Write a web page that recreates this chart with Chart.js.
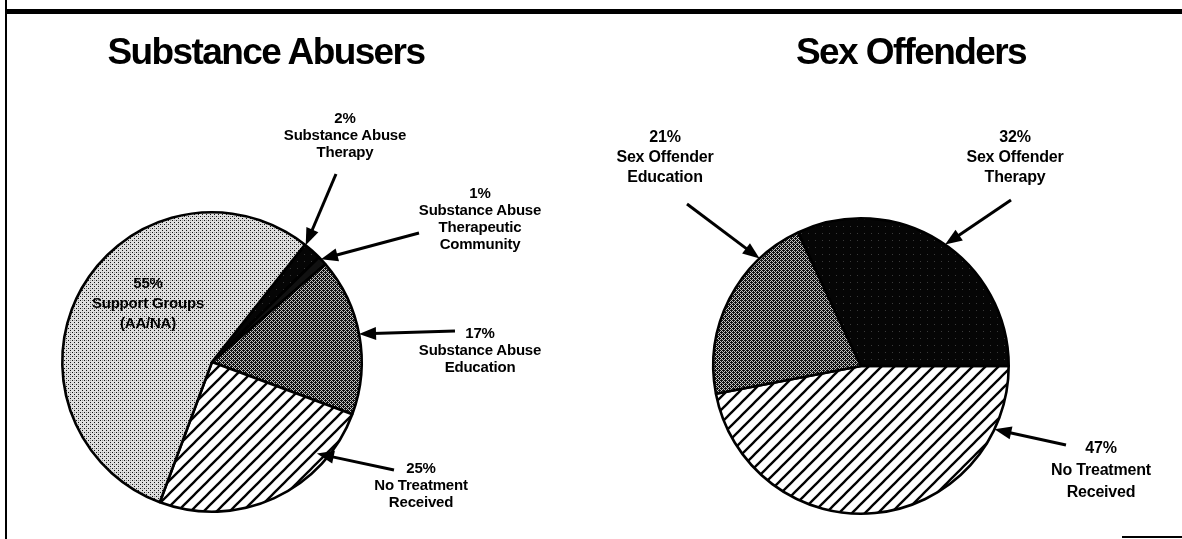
<!DOCTYPE html>
<html>
<head>
<meta charset="utf-8">
<script src="https://cdn.jsdelivr.net/npm/chart.js@4"></script>
<style>
  body { margin: 0; background: #fff; }
  #wrap { position: relative; width: 1182px; height: 539px; overflow: hidden; background: #fff; }
  canvas { position: absolute; left: 0; top: 0; }
  .title { position: absolute; font: bold 37px "Liberation Sans", Arial, sans-serif; letter-spacing: -1.6px; color: #000; white-space: nowrap; }
  .lbl { position: absolute; width: 220px; text-align: center; font-family: "Liberation Sans", Arial, sans-serif; font-weight: bold; color: #000; white-space: nowrap; letter-spacing: -0.2px; }
  .rule { position: absolute; background: #000; }
</style>
</head>
<body>
<div id="wrap">
  <div class="rule" style="left:5px;top:9px;width:1177px;height:5px"></div>
  <div class="rule" style="left:5px;top:0;width:2px;height:539px"></div>
  <div class="rule" style="left:1122px;top:536px;width:60px;height:2px"></div>
  <canvas id="abuse" width="1182" height="539"></canvas>
  <canvas id="sex" width="1182" height="539"></canvas>
</div>
<script>
// data
var abuseTitle = 'Substance Abusers'
var abuseCategories = [
  ['Substance Abuse', 'Therapy'],
  ['Substance Abuse', 'Therapeutic', 'Community'],
  ['Substance Abuse', 'Education'],
  ['No Treatment', 'Received'],
  ['Support Groups', '(AA/NA)']
]
var abuseValues = [2, 1, 17, 25, 55]

var sexTitle = 'Sex Offenders'
var sexCategories = [
  ['No Treatment', 'Received'],
  ['Sex Offender', 'Education'],
  ['Sex Offender', 'Therapy']
]
var sexValues = [47, 21, 32]

// fills, made to look like the old print screens
function makePattern (kind) {
  var c = document.createElement('canvas')
  var g = c.getContext('2d')
  if (kind === 'hatch') {
    c.width = 13; c.height = 13
    g.fillStyle = '#fff'; g.fillRect(0, 0, 13, 13)
    g.strokeStyle = '#000'; g.lineWidth = 2.3
    for (var k = -1; k <= 1; k++) {
      g.beginPath()
      g.moveTo(-3, 13 + 13 * k + 3)
      g.lineTo(16, 13 * k - 3)
      g.stroke()
    }
  } else if (kind === 'light') {
    c.width = 4; c.height = 4
    g.fillStyle = '#dedede'; g.fillRect(0, 0, 4, 4)
    g.fillStyle = '#111'
    g.fillRect(0, 0, 1, 1); g.fillRect(2, 2, 1, 1)
    g.fillStyle = '#999'
    g.fillRect(2, 0, 1, 1)
  } else if (kind === 'dark') {
    c.width = 4; c.height = 4
    g.fillStyle = '#c4c4c4'; g.fillRect(0, 0, 4, 4)
    g.fillStyle = '#111'
    g.fillRect(0, 0, 1, 1); g.fillRect(2, 0, 1, 1); g.fillRect(1, 1, 1, 1); g.fillRect(3, 1, 1, 1)
    g.fillRect(0, 2, 1, 1); g.fillRect(2, 2, 1, 1); g.fillRect(1, 3, 1, 1); g.fillRect(3, 3, 1, 1)
    g.fillRect(1, 0, 1, 1); g.fillRect(3, 2, 1, 1)
  } else if (kind === 'black') {
    c.width = 7; c.height = 7
    g.fillStyle = '#050505'; g.fillRect(0, 0, 7, 7)
    g.fillStyle = '#3a3a3a'; g.fillRect(3, 2, 1, 1)
  }
  return g.createPattern(c, 'repeat')
}

// where the words and arrows go (page pixels)
var abuseLayout = {
  padding: { left: 61, top: 211, right: 819, bottom: 26 },
  rotation: 38.4,
  labels: [
    { x: 345, y: 117, lh: 17, size: 15, arrow: [0.05, 1, 336, 174] },
    { x: 480, y: 192, lh: 17, size: 15, arrow: [0.3, 1, 419, 233] },
    { x: 480, y: 332, lh: 17, size: 15, arrow: [0.49, 1, 455, 331] },
    { x: 421, y: 467, lh: 17, size: 15, arrow: [0.23, 0.93, 394, 470] },
    { x: 148, y: 283, lh: 20, size: 15, arrow: null }
  ]
}
var sexLayout = {
  padding: { left: 712, top: 217, right: 172, bottom: 24 },
  rotation: 90,
  labels: [
    { x: 1101, y: 448, lh: 22, size: 16, arrow: [0.15, 1, 1066, 445] },
    { x: 665, y: 137, lh: 20, size: 16, arrow: [0.76, 1, 687, 204] },
    { x: 1015, y: 137, lh: 20, size: 16, arrow: [0.52, 1, 1011, 200] }
  ]
}

var arrowPlugin = {
  id: 'arrows',
  afterDraw: function (chart) {
    var ctx = chart.ctx
    var labels = chart.options.plugins.arrows.labels
    var arcs = chart.getDatasetMeta(0).data
    labels.forEach(function (lb, i) {
      if (!lb.arrow) return
      var p = arcs[i].getProps(['x', 'y', 'startAngle', 'endAngle', 'outerRadius'], true)
      var a = p.startAngle + lb.arrow[0] * (p.endAngle - p.startAngle)
      var r = p.outerRadius * lb.arrow[1]
      var tx = p.x + Math.cos(a) * r
      var ty = p.y + Math.sin(a) * r
      var sx = lb.arrow[2]
      var sy = lb.arrow[3]
      var ang = Math.atan2(ty - sy, tx - sx)
      var hl = 17
      var hw = 6.5
      ctx.save()
      ctx.strokeStyle = '#000'
      ctx.fillStyle = '#000'
      ctx.lineWidth = 3
      ctx.beginPath()
      ctx.moveTo(sx, sy)
      ctx.lineTo(tx - Math.cos(ang) * hl * 0.8, ty - Math.sin(ang) * hl * 0.8)
      ctx.stroke()
      ctx.beginPath()
      ctx.moveTo(tx, ty)
      ctx.lineTo(tx - Math.cos(ang) * hl - Math.sin(ang) * hw, ty - Math.sin(ang) * hl + Math.cos(ang) * hw)
      ctx.lineTo(tx - Math.cos(ang) * hl + Math.sin(ang) * hw, ty - Math.sin(ang) * hl - Math.cos(ang) * hw)
      ctx.closePath()
      ctx.fill()
      ctx.restore()
    })
  }
}

function makePie (id, categories, values, fills, layout) {
  new Chart(document.getElementById(id), {
    type: 'pie',
    data: {
      labels: categories.map(function (c) { return c.join(' ') }),
      datasets: [{
        data: values,
        backgroundColor: fills,
        borderColor: '#000',
        borderWidth: 2.6,
        hoverOffset: 0
      }]
    },
    options: {
      responsive: false,
      animation: false,
      rotation: layout.rotation,
      layout: { padding: layout.padding },
      events: [],
      plugins: {
        legend: { display: false },
        tooltip: { enabled: false },
        arrows: { labels: layout.labels }
      }
    },
    plugins: [arrowPlugin]
  })
}

function addText (categories, values, layout, title, titleX, titleY) {
  var wrap = document.getElementById('wrap')
  var t = document.createElement('div')
  t.className = 'title'
  t.textContent = title
  wrap.appendChild(t)
  t.style.left = (titleX - t.offsetWidth / 2) + 'px'
  t.style.top = (titleY - t.offsetHeight / 2) + 'px'
  categories.forEach(function (lines, i) {
    var lb = layout.labels[i]
    var d = document.createElement('div')
    d.className = 'lbl'
    d.style.fontSize = lb.size + 'px'
    d.style.lineHeight = lb.lh + 'px'
    d.style.left = (lb.x - 110) + 'px'
    d.style.top = (lb.y - lb.lh / 2) + 'px'
    d.innerHTML = [values[i] + '%'].concat(lines).join('<br>')
    wrap.appendChild(d)
  })
}

makePie('abuse', abuseCategories, abuseValues,
  [makePattern('black'), '#111', makePattern('dark'), makePattern('hatch'), makePattern('light')], abuseLayout)
makePie('sex', sexCategories, sexValues,
  [makePattern('hatch'), makePattern('dark'), makePattern('black')], sexLayout)

addText(abuseCategories, abuseValues, abuseLayout, abuseTitle, 266, 52)
addText(sexCategories, sexValues, sexLayout, sexTitle, 911, 52)
</script>
</body>
</html>
